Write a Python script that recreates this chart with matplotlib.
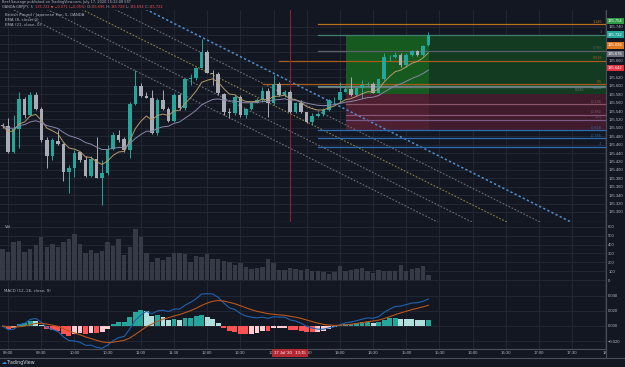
import numpy as np
import pandas as pd
import matplotlib
matplotlib.use('Agg')
import matplotlib.pyplot as plt
from matplotlib.lines import Line2D

W, H = 625, 367
BG = '#131722'
GRID = '#232733'
TXT = '#b2b5be'
UP = '#26a69a'
DOWN = '#a9acb5'
NARROW = ['Liberation Sans Narrow', 'Liberation Sans', 'DejaVu Sans']

# 5 min bars, OANDA:GBPJPY, 17 Jul 2020 (bar 0 = 09:00)
bars = np.arange(-1, 77)
opens = [135.506, 135.505, 135.443, 135.497, 135.569, 135.531, 135.578, 135.545, 135.471, 135.433,
         135.470, 135.461, 135.396, 135.404, 135.442, 135.424, 135.386, 135.425, 135.382, 135.392,
         135.449, 135.482, 135.473, 135.448, 135.557, 135.600, 135.577, 135.572, 135.487, 135.566,
         135.545, 135.517, 135.578, 135.548, 135.616, 135.618, 135.643, 135.681, 135.631, 135.628,
         135.580, 135.539, 135.535, 135.574, 135.531, 135.544, 135.560, 135.566, 135.588, 135.559,
         135.604, 135.578, 135.586, 135.539, 135.560, 135.537, 135.515, 135.529, 135.532, 135.543,
         135.566, 135.567, 135.586, 135.593, 135.578, 135.594, 135.602, 135.604, 135.584, 135.616,
         135.668, 135.669, 135.673, 135.650, 135.673, 135.683, 135.673, 135.696]
highs = [135.512, 135.524, 135.531, 135.585, 135.574, 135.586, 135.585, 135.549, 135.479, 135.475,
         135.495, 135.463, 135.412, 135.448, 135.443, 135.432, 135.432, 135.479, 135.424, 135.459,
         135.491, 135.495, 135.479, 135.562, 135.638, 135.606, 135.586, 135.590, 135.570, 135.589,
         135.549, 135.582, 135.582, 135.618, 135.628, 135.646, 135.711, 135.685, 135.638, 135.633,
         135.582, 135.547, 135.578, 135.578, 135.547, 135.562, 135.570, 135.598, 135.594, 135.626,
         135.608, 135.589, 135.590, 135.562, 135.566, 135.539, 135.535, 135.538, 135.547, 135.569,
         135.574, 135.610, 135.597, 135.620, 135.597, 135.614, 135.609, 135.610, 135.619, 135.677,
         135.673, 135.681, 135.677, 135.677, 135.685, 135.685, 135.698, 135.728]
lows = [135.500, 135.441, 135.440, 135.452, 135.523, 135.528, 135.543, 135.467, 135.404, 135.424,
        135.459, 135.374, 135.345, 135.384, 135.420, 135.384, 135.384, 135.380, 135.317, 135.388,
        135.448, 135.467, 135.443, 135.428, 135.555, 135.574, 135.570, 135.486, 135.483, 135.543,
        135.515, 135.515, 135.543, 135.543, 135.602, 135.614, 135.642, 135.630, 135.602, 135.578,
        135.531, 135.523, 135.531, 135.525, 135.523, 135.543, 135.559, 135.562, 135.527, 135.555,
        135.576, 135.574, 135.536, 135.535, 135.535, 135.511, 135.507, 135.526, 135.528, 135.540,
        135.556, 135.562, 135.585, 135.577, 135.576, 135.570, 135.600, 135.582, 135.582, 135.614,
        135.658, 135.666, 135.646, 135.646, 135.671, 135.671, 135.671, 135.694]
closes = [135.505, 135.443, 135.497, 135.569, 135.531, 135.578, 135.545, 135.471, 135.433, 135.471,
          135.461, 135.396, 135.404, 135.440, 135.424, 135.386, 135.425, 135.382, 135.392, 135.450,
          135.482, 135.471, 135.448, 135.557, 135.600, 135.577, 135.572, 135.487, 135.566, 135.545,
          135.517, 135.578, 135.548, 135.616, 135.618, 135.643, 135.681, 135.631, 135.628, 135.582,
          135.539, 135.535, 135.574, 135.531, 135.544, 135.560, 135.566, 135.588, 135.559, 135.604,
          135.578, 135.586, 135.539, 135.560, 135.537, 135.515, 135.529, 135.532, 135.543, 135.566,
          135.567, 135.586, 135.593, 135.578, 135.594, 135.602, 135.604, 135.584, 135.616, 135.668,
          135.669, 135.673, 135.650, 135.673, 135.683, 135.673, 135.695, 135.722]
volume = [349, 315, 429, 440, 315, 353, 399, 490, 376, 402, 376, 425, 463, 520, 410, 300, 338, 300,
          330, 433, 380, 463, 285, 368, 581, 490, 304, 205, 247, 224, 262, 308, 304, 289, 205, 273,
          262, 296, 239, 239, 220, 205, 171, 197, 152, 125, 140, 144, 235, 197, 110, 114, 133, 129,
          118, 125, 106, 99, 91, 68, 95, 159, 103, 114, 121, 137, 106, 84, 110, 106, 103, 106, 167,
          106, 121, 140, 159, 53]

time_ticks = np.arange(0, 109, 6)
time_labels = ['09:00', '09:30', '10:00', '10:30', '11:00', '11:30', '12:00', '12:30', '13:00',
               '13:30', '14:00', '14:30', '15:00', '15:30', '16:00', '16:30', '17:00', '17:30', '18']

# parallel channel lines: bar where each line meets 135.276, slope per bar
chan_end = [77.7, 83.9, 90.2, 96.2, 101.8]
chan_color = ['#6b6e78', '#6b6e78', '#8c8443', '#6b6e78', '#4f8fd0']
chan_slope = 0.00658

# long position tool and fib levels
pos_start, pos_mid = 61.1, 76.1
pos_entry, pos_target, pos_stop = 135.580, 135.722, 135.496
lvl_price = [135.746, 135.722, 135.684, 135.660, 135.604, 135.600, 135.597,
             135.557, 135.531, 135.519, 135.495, 135.475, 135.455]
lvl_start = [56, 56, 56, 49, 46.1, 56, 56, 61.1, 61.1, 61.1, 56, 56, 56]
lvl_color = ['#b8701e', '#3f7f6c', '#5d606b', '#a85c1c', '#a85c1c', '#5f8f84', '#70737c',
             '#8a5568', '#8a5578', '#7a5a8c', '#2c6db5', '#2c6db5', '#2c6db5']
lvl_label = ['1.146', '1', '0.786', '0.618', '0.5', '0.382', '0.236',
             '-0.236', '-0.382', '-0.5', '-0.618', '-0.786', '-1']

axis_tags = [(135.754, '135.754', '#2e9c47'), (135.722, '135.722', '#26a69a'),
             (135.696, '135.696', '#e0781e'), (135.676, '135.676', '#6e717b'),
             (135.642, '135.642', '#e5303f')]

close_s = pd.Series(closes)
ema8 = close_s.ewm(span=8, adjust=False).mean()
ema21 = close_s.ewm(span=21, adjust=False).mean()
macd = close_s.ewm(span=12, adjust=False).mean() - close_s.ewm(span=26, adjust=False).mean()
signal = macd.ewm(span=9, adjust=False).mean()
hist = macd - signal

XL = (-1.465, 108.12)


def rect(x0, y0, x1, y1):
    return [x0 / W, 1 - y1 / H, (x1 - x0) / W, (y1 - y0) / H]


fig = plt.figure(figsize=(W / 100, H / 100), dpi=100, facecolor=BG)
ax = fig.add_axes(rect(0, 10, 606, 222))
axv = fig.add_axes(rect(0, 222, 606, 285.7))
axm = fig.add_axes(rect(0, 285.7, 606, 348.5))

for a in (ax, axv, axm):
    a.set_facecolor(BG)
    a.set_xlim(*XL)
    a.set_xticks(time_ticks)
    a.grid(True, color=GRID, lw=0.7)
    a.set_axisbelow(True)
    a.yaxis.tick_right()
    a.tick_params(axis='y', length=0, pad=1.6, labelsize=3.0, colors=TXT)
    a.tick_params(axis='x', length=0, labelbottom=False)
    for s in ('top', 'left'):
        a.spines[s].set_visible(False)
    for s in ('bottom', 'right'):
        a.spines[s].set_color('#4a4e5a')
        a.spines[s].set_linewidth(0.8)

# ---- price panel
ax.set_ylim(135.2762, 135.7804)
pt = np.round(np.arange(135.30, 135.741, 0.02), 3)
ax.set_yticks(pt)
ax.set_yticklabels(['%.3f' % p for p in pt], family=NARROW)

# channel lines
xx = np.array([-5, 115])
for e, c in zip(chan_end, chan_color):
    ax.plot(xx, 135.276 + chan_slope * (e - xx), color=c, lw=0.8 if c != '#4f8fd0' else 1.1,
            ls=(0, (1.5, 1.5)), zorder=2)

# position zones
ax.fill_between([pos_start, pos_mid], pos_entry, pos_target, color='#175a1f', lw=0, zorder=1)
ax.fill_between([pos_mid, XL[1]], pos_entry, pos_target, color='#123b21', lw=0, zorder=1)
ax.fill_between([pos_start, pos_mid], pos_stop, pos_entry, color='#4d1f30', lw=0, zorder=1)
ax.fill_between([pos_mid, XL[1]], pos_stop, pos_entry, color='#3f1b2b', lw=0, zorder=1)
lab_x = [107.4] * 13
lab_x[6] = 104.2
lab_va = ['bottom'] * 13
lab_va[5] = lab_va[6] = 'top'
for p, s, c, lab, lx, va in zip(lvl_price, lvl_start, lvl_color, lvl_label, lab_x, lab_va):
    ax.plot([s, XL[1]], [p, p], color=c, lw=0.9, zorder=2)
    ax.text(lx, p + (0.001 if va == 'bottom' else -0.001), lab, color=c, fontsize=2.7,
            family=NARROW, ha='right', va=va, zorder=6)

# crosshair
ax.axvline(51, color='#8e1f2e', lw=0.8, zorder=2)

# candles
o, h, l, c = (np.array(v) for v in (opens, highs, lows, closes))
col = np.where(c >= o, UP, DOWN)
ax.vlines(bars, l, h, colors=col, lw=0.7, zorder=4)
ax.bar(bars, np.maximum(np.abs(c - o), 0.0012), bottom=np.minimum(o, c), width=0.64,
       color=col, lw=0, zorder=5)
ax.plot(bars, ema8, color='#b39b68', lw=0.7, zorder=6)
ax.plot(bars, ema21, color='#8a86a8', lw=0.7, zorder=6)

for p, s, c2 in axis_tags:
    ax.text(1.0032, p, s, transform=ax.get_yaxis_transform(), fontsize=3.0, color='white',
            family=NARROW, va='center', ha='left', clip_on=False, zorder=10,
            bbox=dict(boxstyle='square,pad=0.3', fc=c2, ec='none'))

# ---- volume panel
axv.set_ylim(-62.6, 654.6)
vt = np.arange(0, 601, 100)
axv.set_yticks(vt)
axv.set_yticklabels([str(v) for v in vt], family=NARROW)
axv.bar(bars, volume, width=0.8, color='#363a46', lw=0, zorder=3)

# ---- MACD panel
axm.set_ylim(-0.0298, 0.0532)
mt = [-0.02, 0.0, 0.02, 0.04]
axm.set_yticks(mt)
axm.set_yticklabels(['\u22120.020', '0.000', '0.020', '0.040'], family=NARROW)
prev = hist.shift(1).fillna(0)
hcol = np.where(hist >= 0, np.where(hist >= prev, UP, '#b2dfdb'),
                np.where(hist <= prev, '#ff5252', '#ffcdd2'))
axm.bar(bars, hist, width=0.88, color=hcol, lw=0, zorder=3)
axm.plot(bars, macd, color='#2162b0', lw=0.8, zorder=4)
axm.plot(bars, signal, color='#b8561d', lw=0.8, zorder=4)
axm.tick_params(axis='x', labelbottom=True, labelsize=3.1, colors=TXT, pad=2.0)
axm.set_xticklabels(time_labels, family=NARROW)

# frame lines below the time scale
fig.add_artist(Line2D([0, 1], [1 - 357.5 / H] * 2, color='#4a4e5a', lw=0.8))
fig.add_artist(Line2D([606 / W] * 2, [1 - 357.5 / H, 1 - 348.5 / H], color='#4a4e5a', lw=0.8))

fig.text(290 / W, 1 - 353 / H, "17 Jul '20   13:15", fontsize=3.1, color='white', ha='center',
         family=NARROW, va='center', zorder=20,
         bbox=dict(boxstyle='square,pad=0.5', fc='#b22833', ec='none'))

# ---- header texts
rend = fig.canvas.get_renderer()


def chain(x, y, parts, size):
    for s, cc in parts:
        t = fig.text(x / W, 1 - y / H, s, color=cc, fontsize=size, va='center', ha='left')
        x += t.get_window_extent(renderer=rend).width


RED = '#ef5350'
chain(2, 2.3, [('Beef Sausage published on TradingView.com, July 17, 2020 15:22:08 EST', TXT)], 2.5)
chain(2, 6.8, [('OANDA:GBPJPY, 5  ', TXT), ('135.722 \u25bc \u22120.071 (\u22120.05%)', RED),
               (' O:', TXT), ('135.696', RED), (' H:', TXT), ('135.728', RED), (' L:', TXT),
               ('135.694', RED), (' C:', TXT), ('135.722', RED)], 2.5)
chain(5, 15.3, [('British Pound / Japanese Yen, 5, OANDA', TXT)], 2.9)
chain(5, 20.3, [('EMA (8, close, 0)', TXT)], 2.9)
chain(5, 25.3, [('EMA (21, close, 0)', TXT)], 2.9)
chain(5, 227.5, [('Vol', TXT)], 2.9)
chain(4, 290.5, [('MACD (12, 26, close, 9)', TXT)], 2.9)
chain(2, 362.5, [('\u2601', '#2196f3'), ('TradingView', '#d1d4dc')], 3.4)

fig.savefig('out.png', dpi=100, facecolor=BG)
